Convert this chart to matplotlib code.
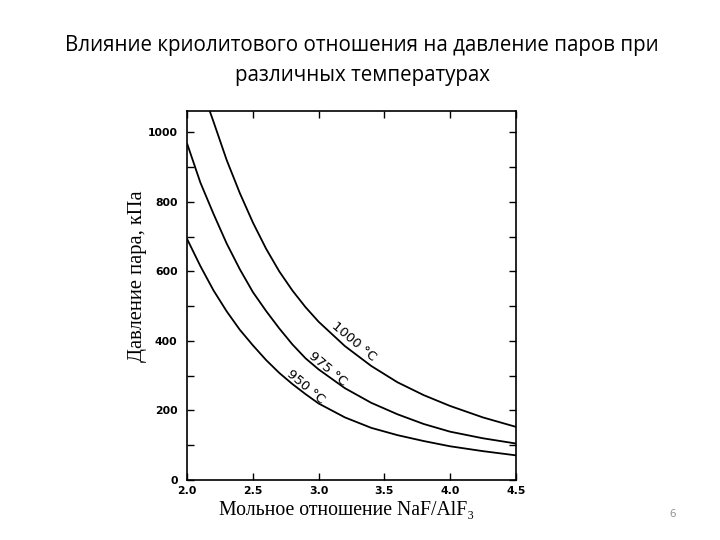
import matplotlib
matplotlib.use("Agg")
import matplotlib.pyplot as plt
from matplotlib.ticker import MultipleLocator

# values (pressure, kPa)
x_1000 = [2.17, 2.2, 2.3, 2.4, 2.5, 2.6, 2.7, 2.8, 2.9, 3.0, 3.2, 3.4, 3.6, 3.8, 4.0, 4.25, 4.5]
y_1000 = [1062, 1030, 920, 825, 740, 665, 600, 545, 497, 455, 385, 328, 281, 244, 213, 180, 153]

x_975 = [2.0, 2.1, 2.2, 2.3, 2.4, 2.5, 2.6, 2.7, 2.8, 2.9, 3.0, 3.2, 3.4, 3.6, 3.8, 4.0, 4.25, 4.5]
y_975 = [966, 855, 765, 680, 606, 540, 486, 436, 390, 350, 318, 264, 222, 189, 161, 139, 120, 105]

x_950 = [2.0, 2.1, 2.2, 2.3, 2.4, 2.5, 2.6, 2.7, 2.8, 2.9, 3.0, 3.2, 3.4, 3.6, 3.8, 4.0, 4.25, 4.5]
y_950 = [692, 615, 545, 485, 432, 387, 345, 308, 276, 247, 220, 180, 150, 129, 112, 97, 83, 71]

labels = ["1000 °C", "975 °C", "950 °C"]
label_pos = [(3.27, 398), (3.07, 318), (2.90, 268)]

title = "Влияние криолитового отношения на давление паров при\nразличных температурах"
xlabel = "Мольное отношение NaF/AlF₃"
ylabel = "Давление пара, кПа"
x_ticks = [2.0, 2.5, 3.0, 3.5, 4.0, 4.5]
y_ticks = [0, 200, 400, 600, 800, 1000]

fig = plt.figure(figsize=(7.2, 5.4), dpi=100)
fig.text(0.503, 0.888, title, ha="center", va="center", fontsize=14.8,
         family="Open Sans", linespacing=1.56)
fig.text(0.934, 0.048, "6", ha="center", va="center", fontsize=8, color="#8c8c8c",
         family="Open Sans")

ax = fig.add_axes([0.2601, 0.1111, 0.4562, 0.6839])
for xs, ys in [(x_1000, y_1000), (x_975, y_975), (x_950, y_950)]:
    ax.plot(xs, ys, color="black", lw=1.3, solid_joinstyle="round")

for txt, (tx, ty) in zip(labels, label_pos):
    ax.text(tx, ty, txt, rotation=-40, ha="center", va="center", fontsize=9.5,
            family="DejaVu Sans", rotation_mode="anchor")

ax.set_xlim(2.0, 4.5)
ax.set_ylim(0, 1062)
ax.set_xticks(x_ticks)
ax.set_yticks(y_ticks)
ax.yaxis.set_minor_locator(MultipleLocator(100))
ax.tick_params(which="both", direction="in", top=True, right=True, width=1.0,
               length=5, labelsize=7.8)
ax.tick_params(axis="x", pad=4.5)
ax.tick_params(axis="y", pad=7)
for lab in ax.get_xticklabels() + ax.get_yticklabels():
    lab.set_fontweight("bold")
for s in ax.spines.values():
    s.set_linewidth(1.2)

ax.set_xlabel(xlabel, family="Liberation Serif", fontsize=14.2)
ax.set_ylabel(ylabel, family="Liberation Serif", fontsize=14.8)
ax.xaxis.set_label_coords(0.485, -0.058)
ax.yaxis.set_label_coords(-0.123, 0.552)

fig.savefig("out.png", dpi=100)
